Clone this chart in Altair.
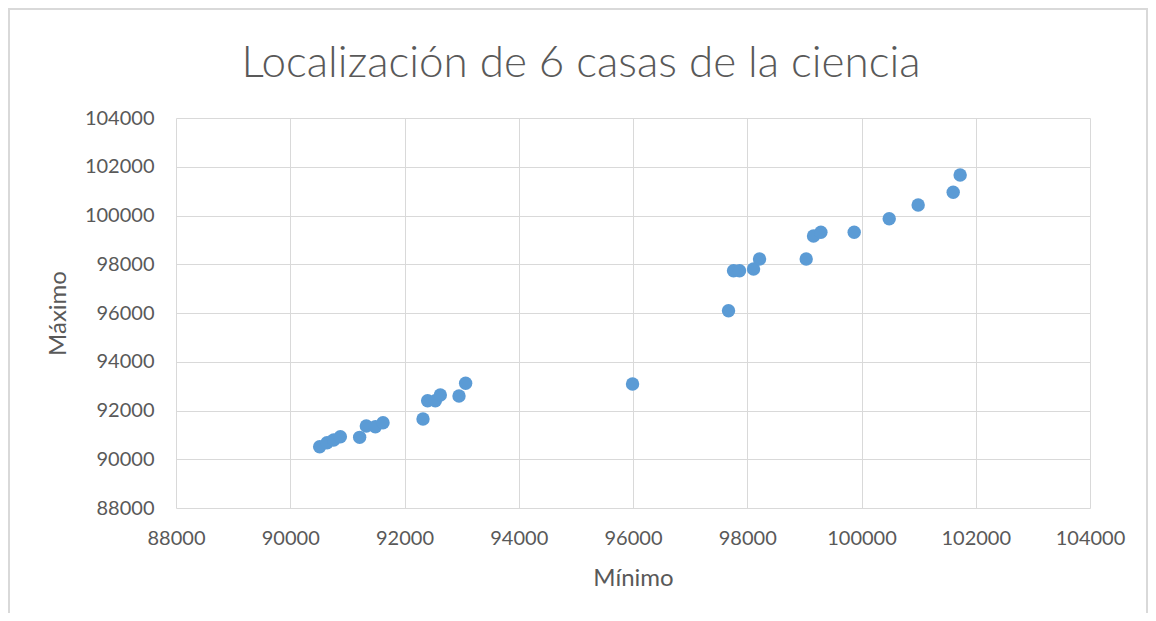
import altair as alt
import pandas as pd

minimo = [90515, 90644, 90760, 90877, 91215, 91332, 91490, 91624, 92324,
          92405, 92540, 92627, 92954, 93070, 95992, 97672, 97760, 97865,
          98110, 98215, 99032, 99160, 99289, 99872, 100485, 100992, 101605, 101727]
maximo = [90513, 90678, 90788, 90924, 90899, 91363, 91334, 91498, 91650,
          92401, 92401, 92635, 92594, 93115, 93086, 96094, 97735, 97735,
          97805, 98215, 98215, 99158, 99310, 99310, 99868, 100430, 100951, 101661]
ticks = [88000, 90000, 92000, 94000, 96000, 98000, 100000, 102000, 104000]
title_text = "Localización de 6 casas de la ciencia"

df = pd.DataFrame({"Mínimo": minimo, "Máximo": maximo})

FONT = "Lato"
GREY = "#595959"

points = alt.Chart(df).mark_circle(size=180, opacity=1, color="#5b9bd5").encode(
    x=alt.X("Mínimo:Q",
            scale=alt.Scale(domain=[88000, 104000], nice=False, zero=False),
            axis=alt.Axis(values=ticks, format="d", title="Mínimo", labelFlush=False,
                          labelPadding=20, titleY=70, titleBaseline="middle")),
    y=alt.Y("Máximo:Q",
            scale=alt.Scale(domain=[88000, 104000], nice=False, zero=False),
            axis=alt.Axis(values=ticks, format="d", title="Máximo", labelFlush=False,
                          labelPadding=22, titleX=-118, titleBaseline="middle")),
)

border = alt.Chart(alt.Data(values=[{"a": 1}])).mark_rect(
    filled=False, stroke="#d9d9d9", strokeWidth=2
).encode(
    x=alt.value(-167), x2=alt.value(971), y=alt.value(-109), y2=alt.value(520)
)

title = alt.Chart(alt.Data(values=[{"t": title_text}])).mark_text(
    font=FONT, fontSize=44, fontWeight=300, color=GREY, align="center", baseline="alphabetic"
).encode(
    text="t:N", x=alt.value(405), y=alt.value(-41)
)

chart = alt.layer(border, title, points).properties(
    width=914, height=390,
    autosize=alt.AutoSizeParams(type="none"),
    padding={"left": 168, "top": 110, "right": 58, "bottom": 105},
).configure_view(stroke=None).configure_axis(
    grid=True, gridColor="#d9d9d9", gridWidth=1, domain=False, ticks=False,
    labelFont=FONT, labelFontSize=20, labelColor=GREY,
    titleFont=FONT, titleFontSize=24, titleFontWeight="normal", titleColor=GREY,
)

chart.save("out.html", embed_options={"renderer": "svg", "actions": False})
